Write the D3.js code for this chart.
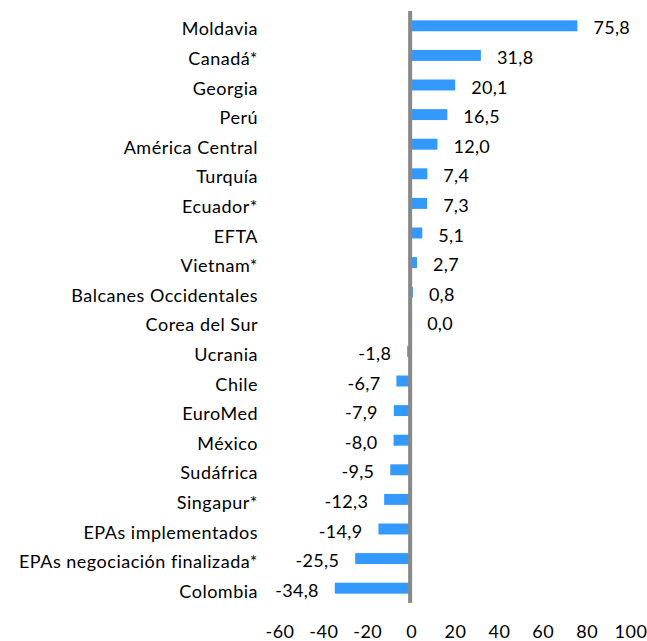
<!DOCTYPE html>
<html lang='es'>
<head>
<meta charset='utf8'>
<title>Chart</title>
<script src="https://cdn.jsdelivr.net/npm/d3@7"></script>
<style>
  body { margin: 0; background: #fff; }
  text { font-family: Lato, "Open Sans", sans-serif; fill: #000; }
</style>
</head>
<body>
<svg id='chart' width='647' height='641'></svg>
<script>
var categories = ['Moldavia', 'Canadá*', 'Georgia', 'Perú', 'América Central', 'Turquía',
  'Ecuador*', 'EFTA', 'Vietnam*', 'Balcanes Occidentales', 'Corea del Sur', 'Ucrania',
  'Chile', 'EuroMed', 'México', 'Sudáfrica', 'Singapur*', 'EPAs implementados',
  'EPAs negociación finalizada*', 'Colombia'];
var values = [75.8, 31.8, 20.1, 16.5, 12.0, 7.4, 7.3, 5.1, 2.7, 0.8, 0.0, -1.8,
  -6.7, -7.9, -8.0, -9.5, -12.3, -14.9, -25.5, -34.8];
var xTicks = [-60, -40, -20, 0, 20, 40, 60, 80, 100];

var svg = d3.select('#chart');

var x = d3.scaleLinear().domain([-60, 100]).range([279.5, 630.5]);
var y = d3.scaleBand().domain(categories).range([11, 603]).paddingInner(0.63).paddingOuter(0.315);

// spanish number format, plain hyphen for minus
var es = d3.formatLocale({decimal: ',', thousands: '.', grouping: [3], currency: ['', ' €'], minus: '-'});
var fmt = es.format('.1f');

var rows = categories.map(function(c, i) { return {name: c, value: values[i]}; });
var mid = function(d) { return y(d.name) + y.bandwidth() / 2; };

// bars
svg.selectAll('rect.bar')
  .data(rows)
  .enter().append('rect')
  .attr('class', 'bar')
  .attr('x', function(d) { return x(Math.min(0, d.value)); })
  .attr('width', function(d) { return Math.abs(x(d.value) - x(0)); })
  .attr('y', function(d) { return y(d.name); })
  .attr('height', y.bandwidth())
  .attr('fill', '#3399ff');

// zero line
svg.append('line')
  .attr('x1', x(0) - 1).attr('x2', x(0) - 1)
  .attr('y1', 11).attr('y2', 603)
  .attr('stroke', '#888').attr('stroke-width', 4);

// category labels
svg.selectAll('text.cat')
  .data(rows)
  .enter().append('text')
  .attr('class', 'cat')
  .attr('x', 258)
  .attr('y', function(d) { return mid(d) + 9.5; })
  .attr('text-anchor', 'end')
  .style('font-size', '18px')
  .style('letter-spacing', '0.5px')
  .text(function(d) { return d.name; });

// value labels
svg.selectAll('text.val')
  .data(rows)
  .enter().append('text')
  .attr('class', 'val')
  .attr('x', function(d) { return d.value >= 0 ? x(d.value) + 16 : x(d.value) - 16; })
  .attr('y', function(d) { return mid(d) + 8.5; })
  .attr('text-anchor', function(d) { return d.value >= 0 ? 'start' : 'end'; })
  .style('font-size', '18px')
  .style('letter-spacing', '0.3px')
  .text(function(d) { return fmt(d.value); });

// x axis labels
var axis = svg.append('g')
  .attr('transform', 'translate(0,625)')
  .call(d3.axisBottom(x).tickValues(xTicks).tickSize(0).tickPadding(0).tickFormat(es.format('d')));
axis.select('.domain').remove();
axis.selectAll('text')
  .style('font-size', '18px')
  .style('letter-spacing', '0.5px')
  .style('font-family', 'Lato, "Open Sans", sans-serif')
  .attr('fill', '#000');
</script>
</body>
</html>
